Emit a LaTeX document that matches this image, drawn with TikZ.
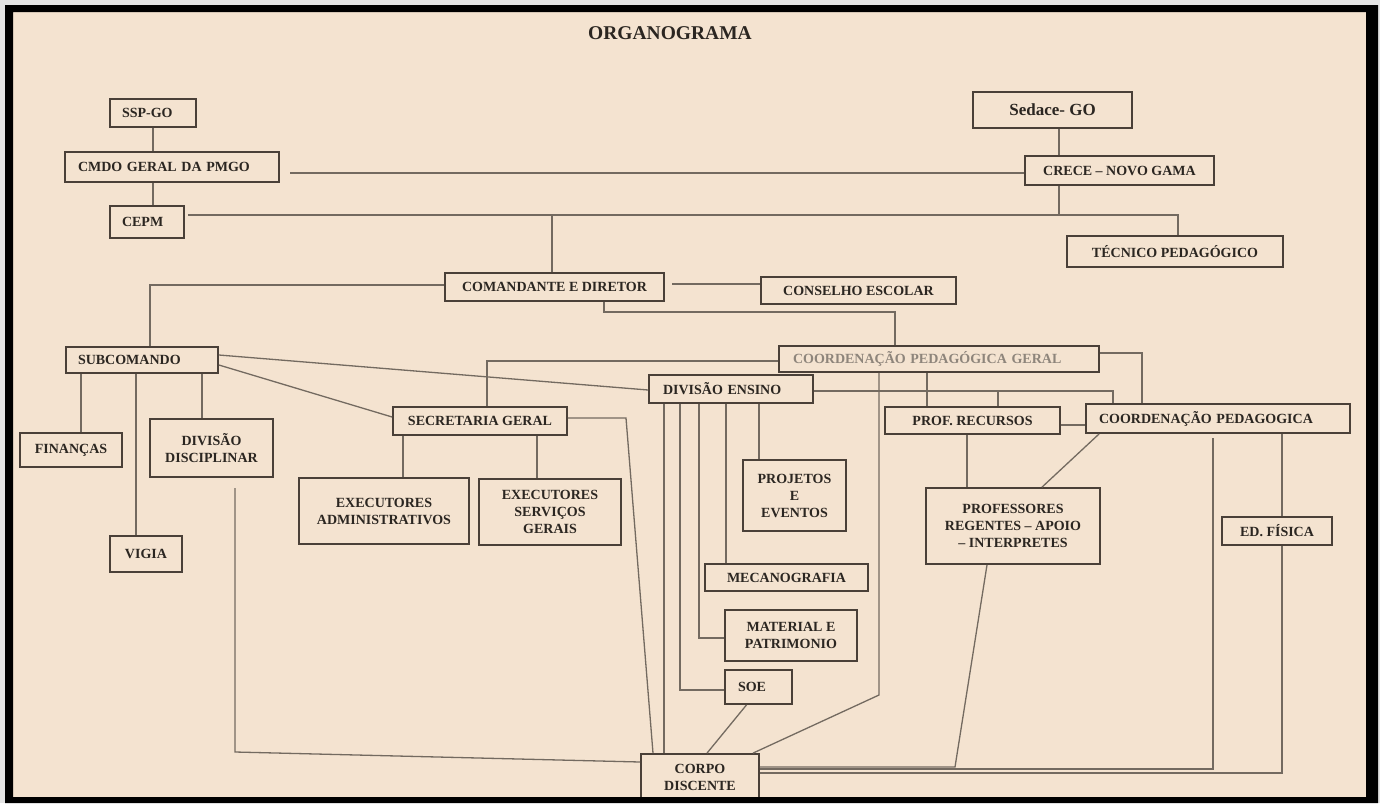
\documentclass[tikz,border=0pt]{standalone}
\usepackage{fontspec}
\setmainfont{Liberation Serif}
\definecolor{bg}{HTML}{F4E3D0}
\definecolor{outer}{HTML}{E4E4E4}
\definecolor{boxc}{HTML}{4A4038}
\definecolor{linec}{HTML}{736A60}
\definecolor{txt}{HTML}{2B2621}
\definecolor{greytxt}{HTML}{8E857B}
\tikzset{
  box/.style={draw=boxc, line width=1.8pt, inner sep=0pt, align=center, text=txt,
    font=\bfseries\fontsize{14}{17}\selectfont},
  lbox/.style={box, align=left},
  conn/.style={draw=linec, line width=1.3pt}
}
\begin{document}
\begin{tikzpicture}[x=1pt,y=-1pt]
\useasboundingbox (0,0) rectangle (1380,803);
\fill[outer] (0,0) rectangle (1380,803);
\fill[bg] (13,12) rectangle (1366,797);

\node[font=\bfseries\fontsize{19.5}{22}\selectfont, text=txt] (title) at (670,33) {ORGANOGRAMA};

% left column
\node[lbox, text width=62pt, inner xsep=12pt, minimum height=28pt] (ssp) at (153,113) {SSP-GO};
\node[lbox, text width=188pt, inner xsep=13pt, minimum height=30pt] (cmdo) at (172,167) {CMDO GERAL DA PMGO};
\node[lbox, text width=50pt, inner xsep=12pt, minimum height=32pt] (cepm) at (147,222) {CEPM};
% right top
\node[box, minimum width=159pt, minimum height=36pt, font=\bfseries\fontsize{17}{20}\selectfont] (sedace) at (1052.5,110) {Sedace- GO};
\node[box, minimum width=189pt, minimum height=29pt] (crece) at (1119.5,170.5) {CRECE – NOVO GAMA};
\node[box, minimum width=216pt, minimum height=31pt] (tecnico) at (1175,251.5) {TÉCNICO PEDAGÓGICO};
% middle
\node[box, minimum width=219pt, minimum height=28pt] (comandante) at (554.5,287) {COMANDANTE E DIRETOR};
\node[box, minimum width=195pt, minimum height=27pt] (conselho) at (858.5,290.5) {CONSELHO ESCOLAR};
\node[lbox, text width=128pt, inner xsep=12pt, minimum height=26pt] (subcomando) at (142,360) {SUBCOMANDO};
\node[lbox, text width=292pt, inner xsep=14pt, minimum height=26pt, text=greytxt] (coordgeral) at (939,359) {COORDENAÇÃO PEDAGÓGICA GERAL};
\node[lbox, text width=136pt, inner xsep=14pt, minimum height=28pt] (divensino) at (731,389) {DIVISÃO ENSINO};
\node[box, minimum width=174pt, minimum height=28pt] (secretaria) at (480,421) {SECRETARIA GERAL};
\node[box, minimum width=175pt, minimum height=27pt] (profrec) at (972.5,420.5) {PROF. RECURSOS};
\node[lbox, text width=238pt, inner xsep=13pt, minimum height=29pt] (coordped) at (1218,418.5) {COORDENAÇÃO PEDAGOGICA};
\node[box, minimum width=102pt, minimum height=34pt] (financas) at (71,450) {FINANÇAS};
\node[box, minimum width=123pt, minimum height=58pt] (divdisc) at (211.5,448) {DIVISÃO\\DISCIPLINAR};
\node[box, minimum width=170pt, minimum height=66pt] (execadm) at (384,511) {EXECUTORES\\ADMINISTRATIVOS};
\node[box, minimum width=142pt, minimum height=66pt] (execserv) at (550,512) {EXECUTORES\\SERVIÇOS\\GERAIS};
\node[box, minimum width=72pt, minimum height=36pt] (vigia) at (146,554) {VIGIA};
\node[box, minimum width=103pt, minimum height=71pt] (projetos) at (794.5,495.5) {PROJETOS\\E\\EVENTOS};
\node[box, minimum width=163pt, minimum height=27pt] (mecano) at (786.5,577.5) {MECANOGRAFIA};
\node[box, minimum width=132pt, minimum height=51pt] (material) at (791,635.5) {MATERIAL E\\PATRIMONIO};
\node[lbox, text width=41pt, inner xsep=13pt, minimum height=34pt] (soe) at (758.5,687) {SOE};
\node[box, minimum width=174pt, minimum height=76pt] (profs) at (1013,526) {PROFESSORES\\REGENTES – APOIO\\– INTERPRETES};
\node[box, minimum width=110pt, minimum height=28pt] (edfis) at (1277,531) {ED. FÍSICA};
\node[box, minimum width=118pt, minimum height=46pt] (corpo) at (700,777) {CORPO\\DISCENTE};

% coordinates
\coordinate (xs) at (1059,0);
\coordinate (cm) at (290,173);
\coordinate (j1) at (1059,215);
\coordinate (ce) at (188,215);
\coordinate (j2) at (1178,215);
\coordinate (j3) at (552,215);
\coordinate (j4) at (150,285);
\coordinate (j5) at (672,284);
\coordinate (j6) at (604,312);
\coordinate (j7) at (895,312);
\coordinate (x81) at (81,0);
\coordinate (x136) at (136,0);
\coordinate (x202) at (202,0);
\coordinate (d1) at (235,488);
\coordinate (d2) at (235,752);
\coordinate (x403) at (403,0);
\coordinate (x537) at (537,0);
\coordinate (r1) at (626,418);
\coordinate (g1) at (487,361);
\coordinate (v1) at (664,0);
\coordinate (v2) at (680,690);
\coordinate (v3) at (699,638);
\coordinate (v4) at (726,0);
\coordinate (v5) at (759,0);
\coordinate (c1) at (879,695);
\coordinate (c2) at (927,0);
\coordinate (e1) at (1113,391);
\coordinate (e2) at (998,391);
\coordinate (e3) at (1142,353);
\coordinate (e4) at (1070,425);
\coordinate (x967) at (967,0);
\coordinate (p1) at (955,767);
\coordinate (q1) at (1213,438);
\coordinate (q2) at (1213,769);
\coordinate (f1) at (1282,0);
\coordinate (f2) at (1282,773);

% connectors
\draw[conn] (ssp.south) -- (ssp.south |- cmdo.north);
\draw[conn] (ssp.south |- cmdo.south) -- (ssp.south |- cepm.north);
\draw[conn] (xs |- sedace.south) -- (xs |- crece.north);
\draw[conn] (cm) -- (cm -| crece.west);
\draw[conn] (j1 |- crece.south) -- (j1);
\draw[conn] (ce) -- (j2) -- (j2 |- tecnico.north);
\draw[conn] (j3) -- (j3 |- comandante.north);
\draw[conn] (comandante.west |- j4) -- (j4) -- (j4 |- subcomando.north);
\draw[conn] (j5) -- (j5 -| conselho.west);
\draw[conn] (j6 |- comandante.south) -- (j6) -- (j7) -- (j7 |- coordgeral.north);
\draw[conn] (x81 |- subcomando.south) -- (x81 |- financas.north);
\draw[conn] (x136 |- subcomando.south) -- (x136 |- vigia.north);
\draw[conn] (x202 |- subcomando.south) -- (x202 |- divdisc.north);
\draw[conn] ([yshift=-5pt]subcomando.east) -- ([yshift=4pt]secretaria.west);
\draw[conn] ([yshift=5pt]subcomando.east) -- ([yshift=-1pt]divensino.west);
\draw[conn] (d1) -- (d2) -- ([yshift=15pt]corpo.west);
\draw[conn] (x403 |- secretaria.south) -- (x403 |- execadm.north);
\draw[conn] (x537 |- secretaria.south) -- (x537 |- execserv.north);
\draw[conn] ([yshift=3pt]secretaria.east) -- (r1) -- ([xshift=-47pt]corpo.north);
\draw[conn] (coordgeral.west |- g1) -- (g1) -- (g1 |- secretaria.north);
\draw[conn] (v1 |- divensino.south) -- (v1 |- corpo.north);
\draw[conn] (v2 |- divensino.south) -- (v2) -- (v2 -| soe.west);
\draw[conn] (v3 |- divensino.south) -- (v3) -- (v3 -| material.west);
\draw[conn] (v4 |- divensino.south) -- (v4 |- mecano.north);
\draw[conn] (v5 |- divensino.south) -- (v5 |- projetos.north);
\draw[conn] ([xshift=-12pt]soe.south) -- ([xshift=7pt]corpo.north);
\draw[conn] (c1 |- coordgeral.south) -- (c1) -- ([xshift=53pt]corpo.north);
\draw[conn] (c2 |- coordgeral.south) -- (c2 |- profrec.north);
\draw[conn] (divensino.east |- e1) -- (e1) -- (e1 |- coordped.north);
\draw[conn] (e2) -- (e2 |- profrec.north);
\draw[conn] (coordgeral.east |- e3) -- (e3) -- (e3 |- coordped.north);
\draw[conn] (profrec.east |- e4) -- (coordped.west |- e4);
\draw[conn] (x967 |- profrec.south) -- (x967 |- profs.north);
\draw[conn] ([xshift=14pt]coordped.south west) -- ([xshift=29pt]profs.north);
\draw[conn] ([xshift=-26pt]profs.south) -- (p1) -- (p1 -| corpo.east);
\draw[conn] (q1) -- (q2) -- (q2 -| corpo.east);
\draw[conn] (f1 |- coordped.south) -- (f1 |- edfis.north);
\draw[conn] (f1 |- edfis.south) -- (f2) -- (f2 -| corpo.east);

% frame
\fill[black, even odd rule] (5,5) rectangle (1378,803) (13,12) rectangle (1366,797);
\end{tikzpicture}
\end{document}
